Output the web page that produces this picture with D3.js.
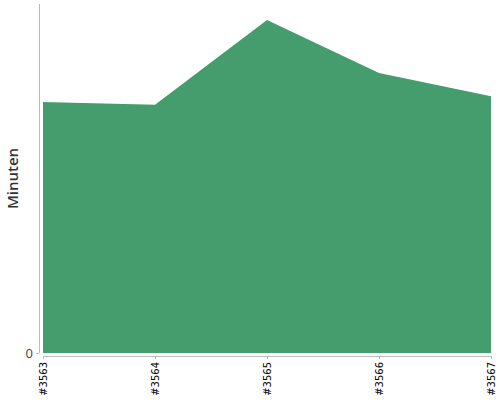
<!DOCTYPE html>
<html>
<head>
<meta charset="utf-8">
<script src="https://cdn.jsdelivr.net/npm/d3@7"></script>
<style>
  body { margin: 0; background: #fff; }
  text { font-family: "DejaVu Sans", sans-serif; }
</style>
</head>
<body>
<div id="chart"></div>
<script>
// data
const builds = ["#3563", "#3564", "#3565", "#3566", "#3567"];
const minutes = [71.9, 71.1, 95.4, 80.2, 73.6];
const yTicks = [0];

const margin = {top: 4, right: 9, bottom: 47, left: 43},
    width = 500 - margin.left - margin.right,
    height = 400 - margin.top - margin.bottom;

const svg = d3.select("#chart")
  .append("svg")
    .attr("width", 500)
    .attr("height", 400)
  .append("g")
    .attr("transform", `translate(${margin.left},${margin.top})`);

const x = d3.scalePoint()
  .domain(builds)
  .range([0, width]);

const y = d3.scaleLinear()
  .domain([0, 100])
  .range([height, 0]);

const data = builds.map((b, i) => ({build: b, value: minutes[i]}));

// area
svg.append("path")
  .datum(data)
  .attr("fill", "#459c6c")
  .attr("d", d3.area()
    .x(d => x(d.build))
    .y0(y(0))
    .y1(d => y(d.value)));

// y axis
const yAxis = svg.append("g")
  .attr("transform", "translate(-4,0)")
  .call(d3.axisLeft(y).tickValues(yTicks).tickSize(3).tickPadding(3));
yAxis.select(".domain").attr("stroke", "#bbb").attr("d", `M0.5,0V${height}`);
yAxis.selectAll(".tick line").attr("stroke", "#bbb");
yAxis.selectAll(".tick text")
  .attr("fill", "#444")
  .style("font-family", "'Open Sans', sans-serif")
  .style("font-size", "13px");

// x axis
const xAxis = svg.append("g")
  .attr("transform", `translate(0,${height + 3})`)
  .call(d3.axisBottom(x).tickSize(3).tickSizeOuter(0));
xAxis.select(".domain").attr("stroke", "#bbb");
xAxis.selectAll(".tick line").attr("stroke", "#bbb");
xAxis.selectAll(".tick text")
  .attr("fill", "#000")
  .style("font-size", "10px")
  .attr("text-anchor", "end")
  .attr("transform", "rotate(-90)")
  .attr("x", -6)
  .attr("y", 0)
  .attr("dy", "0.35em");

// y label
svg.append("text")
  .attr("transform", `translate(${-margin.left + 18},${height / 2}) rotate(-90)`)
  .attr("text-anchor", "middle")
  .attr("fill", "#333")
  .style("font-family", "'Open Sans', sans-serif")
  .style("font-weight", "600")
  .style("font-size", "15px")
  .text("Minuten");
</script>
</body>
</html>
